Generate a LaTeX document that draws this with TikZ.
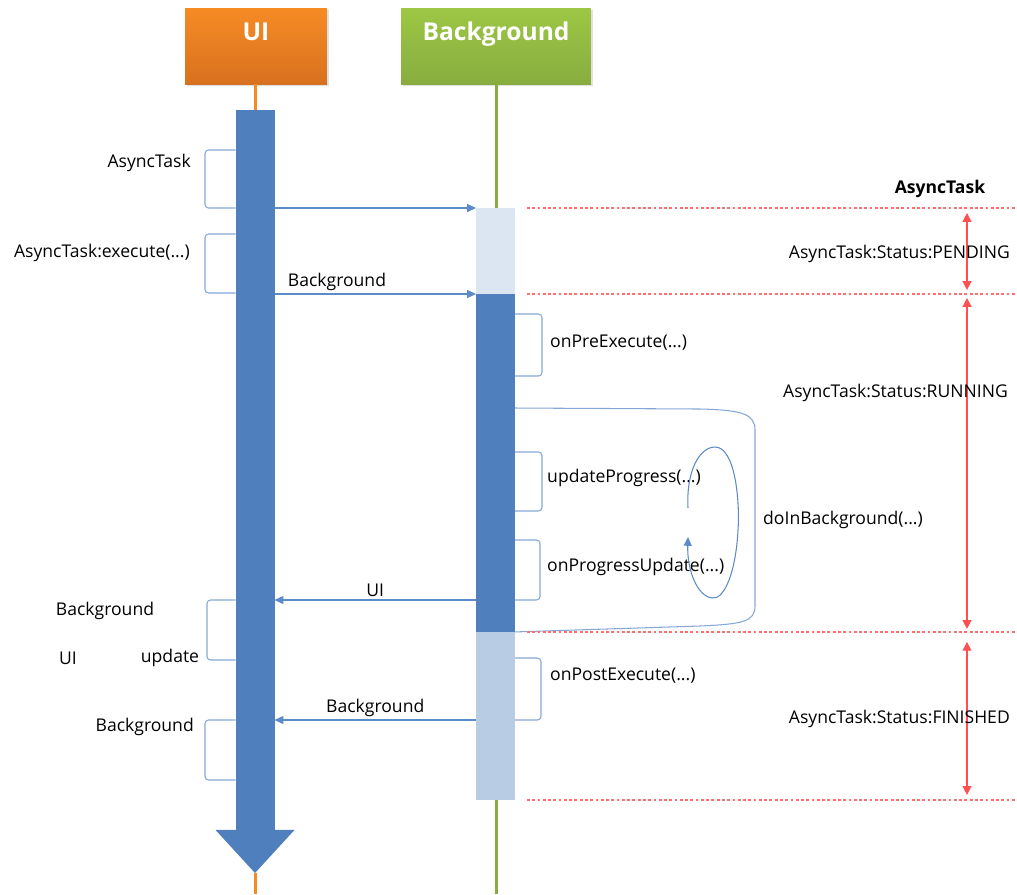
\documentclass[tikz,border=0pt]{standalone}
\usepackage{fontspec}
\setmainfont{Open Sans}
\usetikzlibrary{arrows.meta,positioning}

\definecolor{uiorange}{HTML}{F68B24}
\definecolor{uiorangedark}{HTML}{D8711F}
\definecolor{bggreen}{HTML}{9DC745}
\definecolor{bggreendark}{HTML}{88AD3F}
\definecolor{barblue}{HTML}{4F7FBC}
\definecolor{barpale}{HTML}{DCE6F2}
\definecolor{barlight}{HTML}{B8CCE4}
\definecolor{msgblue}{HTML}{5B8BC8}
\definecolor{statered}{HTML}{FF3030}

\begin{document}
\begin{tikzpicture}[
    x=0.02cm, y=-0.02cm,
    font=\fontsize{10}{12}\selectfont,
    header/.style={minimum height=1.52cm, inner sep=0pt, text=white,
      font=\fontsize{14}{16}\selectfont\bfseries,
      text height=0.3cm, text depth=0.54cm},
    bar/.style={minimum width=0.78cm, inner sep=0pt, outer sep=0pt},
    msg/.style={draw=msgblue, line width=0.6pt,
      -{Triangle[length=5pt,width=4.5pt]}},
    selfcall/.style={draw=msgblue!75, line width=0.6pt, rounded corners=2pt},
    phase/.style={draw=statered!70, line width=0.8pt, dash pattern=on 1.6pt off 1.4pt},
    state/.style={draw=statered!85, line width=0.7pt,
      {Triangle[length=5pt,width=5pt]}-{Triangle[length=5pt,width=5pt]}}
  ]
  \useasboundingbox (0,0) rectangle (1017,894);
  \coordinate (edge) at (1017,0);
  \coordinate (rail) at (967,0);

  % lifeline heads
  \fill[black!12] (187,10) rectangle (329,86);
  \fill[black!12] (403,10) rectangle (593,86);
  \node[header, minimum width=2.84cm, top color=uiorange, bottom color=uiorangedark]
    (ui) at (256,46) {UI};
  \node[header, minimum width=3.8cm, top color=bggreen, bottom color=bggreendark]
    (bg) at (496,46) {Background};

  % background lifeline
  \coordinate (bgend) at (496,894);
  \draw[bggreendark, line width=0.06cm] (bg.south) -- (bgend);

  % UI thread
  \node[bar, fill=barblue, minimum height=14.4cm] (uibar) at (255,470) {};
  \coordinate (uitip) at (255,873);
  \coordinate (uiend) at (255,894);
  \draw[uiorange, line width=0.06cm] (ui.south -| uibar.north) -- (uibar.north);
  \draw[uiorange, line width=0.06cm] (uitip) -- (uiend);
  \fill[barblue] ([xshift=-0.4cm]uibar.south west) -- ([xshift=0.4cm]uibar.south east)
    -- (uitip) -- cycle;

  % background task
  \node[bar, fill=barpale, minimum height=1.72cm] (bgpend) at (495.5,251) {};
  \node[bar, fill=barblue, minimum height=6.76cm, below=0pt of bgpend] (bgrun) {};
  \node[bar, fill=barlight, minimum height=3.36cm, below=0pt of bgrun] (bgfin) {};

  % calls on the UI side
  \draw[selfcall] (uibar.west |- 0,150) -| (205,208) -- (uibar.west |- 0,208);
  \node[anchor=east] (lnew) at (197,163) {AsyncTask};
  \draw[selfcall] (uibar.west |- 0,234) -| (205,293) -- (uibar.west |- 0,293);
  \node[anchor=east] (lexec) at (196,253) {AsyncTask:execute(...)};
  \draw[selfcall] (uibar.west |- 0,600) -| (207,660) -- (uibar.west |- 0,660);
  \node (lupd1) at (105,611) {Background};
  \node (lupd2) at (68,658) {UI};
  \node (lupd3) at (170,658) {update};
  \draw[selfcall] (uibar.west |- 0,720) -| (205,780) -- (uibar.west |- 0,780);
  \node[anchor=east] (lres) at (200,727) {Background};

  % messages
  \draw[msg] (uibar.east |- bgpend.north) -- (bgpend.north west);
  \draw[msg] (uibar.east |- bgpend.south) -- (bgpend.south west)
    node[pos=0.31, above=-2pt] (mstart) {Background};
  \draw[msg] (bgrun.west |- 0,600) -- (uibar.east |- 0,600)
    node[midway, above=-2pt] (mprog) {UI};
  \draw[msg] (bgfin.west |- 0,720) -- (uibar.east |- 0,720)
    node[midway, above=-2pt] (mres) {Background};

  % calls on the background side
  \draw[selfcall] (bgrun.east |- 0,314) -| (542,376) -- (bgrun.east |- 0,376);
  \node[anchor=west] (lpre) at (544,343) {onPreExecute(...)};
  \draw[selfcall] (bgrun.east |- 0,452) -| (542,511) -- (bgrun.east |- 0,511);
  \node[anchor=west] (lprog) at (541,478) {updateProgress(...)};
  \draw[selfcall] (bgrun.east |- 0,540) -| (540,600) -- (bgrun.east |- 0,600);
  \node[anchor=west] (lprup) at (541,567) {onProgressUpdate(...)};
  \draw[selfcall] (bgfin.east |- 0,658) -| (541,720) -- (bgfin.east |- 0,720);
  \node[anchor=west] (lpost) at (544,676) {onPostExecute(...)};

  % doInBackground loop
  \draw[selfcall, rounded corners=0pt] (bgrun.east |- 0,408) -- (700,409)
    .. controls (742,410) and (755,414) .. (755,430) -- (755,606)
    .. controls (755,622) and (742,624) .. (700,626) -- (bgrun.south east);
  \node[anchor=west] (lbg) at (757,520) {doInBackground(...)};
  \draw[msg] (688,508) .. controls (686,470) and (700,447) .. (715,447)
    .. controls (735,447) and (740,500) .. (738,530)
    .. controls (736,570) and (725,600) .. (712,598)
    .. controls (697,596) and (687,570) .. (688,537);

  % task status
  \node[font=\fontsize{10}{12}\selectfont\bfseries] (ltask) at (940,189) {AsyncTask};
  \draw[phase] ([xshift=0.24cm]bgpend.north east) -- (bgpend.north east -| edge);
  \draw[phase] ([xshift=0.24cm]bgrun.north east) -- (bgrun.north east -| edge);
  \draw[phase] ([xshift=0.24cm]bgfin.north east) -- (bgfin.north east -| edge);
  \draw[phase] ([xshift=0.24cm]bgfin.south east) -- (bgfin.south east -| edge);
  \draw[state] ([yshift=-0.1cm]rail |- bgpend.north) -- ([yshift=0.08cm]rail |- bgpend.south);
  \draw[state] ([yshift=-0.08cm]rail |- bgrun.north) -- ([yshift=0.06cm]rail |- bgrun.south);
  \draw[state] ([yshift=-0.2cm]rail |- bgfin.north) -- ([yshift=0.1cm]rail |- bgfin.south);
  \node[anchor=east] (spend) at (1016,254) {AsyncTask:Status:PENDING};
  \node[anchor=east] (srun) at (1014,393) {AsyncTask:Status:RUNNING};
  \node[anchor=east] (sfin) at (1016,719) {AsyncTask:Status:FINISHED};
\end{tikzpicture}
\end{document}
